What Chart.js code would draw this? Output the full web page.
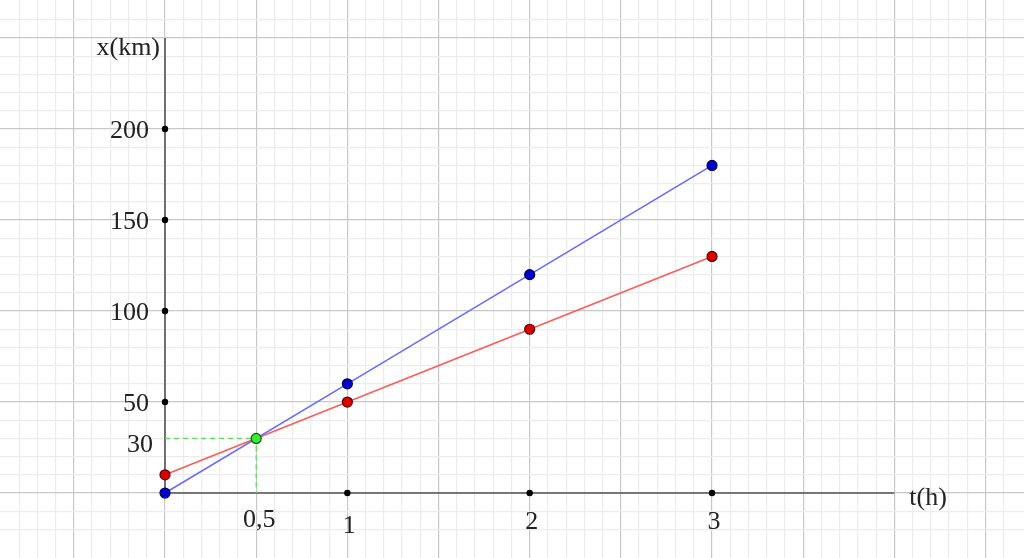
<!DOCTYPE html>
<html>
<head>
<meta charset="utf-8">
<script src="https://cdn.jsdelivr.net/npm/chart.js@4"></script>
<style>
  html, body { margin: 0; padding: 0; background: #fff; }
  canvas { display: block; }
</style>
</head>
<body>
<canvas id="graph" width="1024" height="558"></canvas>
<script>
// data
const hours = [0, 1, 2, 3];
const blueKm = [0, 60, 120, 180];
const redKm = [10, 50, 90, 130];
const meetT = 0.5;
const meetX = 30;
const xTickLabels = [1, 2, 3];
const yTickLabels = [50, 100, 150, 200];

function pts(xs, ys) {
  return xs.map((x, i) => ({ x: x, y: ys[i] }));
}

function gridColor(step, majorEvery) {
  return function (c) {
    const v = c.tick.value / step;
    const k = Math.round(v);
    if (Math.abs(v - k) > 1e-6) return 'rgba(0,0,0,0)';
    return k % majorEvery === 0 ? '#c8c8c8' : '#ececec';
  };
}

const labelsPlugin = {
  id: 'labels',
  afterDatasetsDraw(chart) {
    const c = chart.ctx;
    const sx = chart.scales.x, sy = chart.scales.y;
    c.save();
    c.fillStyle = '#222';
    c.font = '26px "Liberation Serif", serif';
    c.textBaseline = 'middle';
    c.textAlign = 'right';
    yTickLabels.forEach(v => c.fillText(String(v), sx.getPixelForValue(0) - 16, sy.getPixelForValue(v) + 2));
    c.fillText(String(meetX), sx.getPixelForValue(0) - 12, sy.getPixelForValue(meetX) + 7);
    c.fillText('x(km)', sx.getPixelForValue(0) - 5, sy.getPixelForValue(250) + 10);
    c.textAlign = 'center';
    xTickLabels.forEach(v => c.fillText(String(v), sx.getPixelForValue(v) + 2, sy.getPixelForValue(0) + (v === 1 ? 33 : 29)));
    c.fillText('0,5', sx.getPixelForValue(meetT) + 3, sy.getPixelForValue(0) + 27);
    c.textAlign = 'left';
    c.fillText('t(h)', sx.getPixelForValue(4) + 15, sy.getPixelForValue(0) + 5);
    c.restore();
  }
};

new Chart(document.getElementById('graph').getContext('2d'), {
  type: 'scatter',
  data: {
    datasets: [
      {
        data: pts([meetT], [meetX]),
        pointRadius: 5, pointBackgroundColor: '#33ee33', pointBorderColor: '#115511', pointBorderWidth: 1.2,
        order: 0
      },
      {
        data: pts(hours, blueKm), showLine: true,
        borderColor: '#6a6aff', borderWidth: 1.6,
        pointRadius: 5, pointBackgroundColor: '#0000cc', pointBorderColor: '#000055', pointBorderWidth: 1.2,
        order: 1
      },
      {
        data: pts(hours, redKm), showLine: true,
        borderColor: '#ff5a5a', borderWidth: 1.6,
        pointRadius: 5, pointBackgroundColor: '#dd0000', pointBorderColor: '#550000', pointBorderWidth: 1.2,
        order: 2
      },
      {
        // green helper lines to the axes
        data: [{ x: 0, y: meetX }, { x: meetT, y: meetX }, { x: meetT, y: 0 }], showLine: true,
        borderColor: '#5fdc5f', borderWidth: 1.3, borderDash: [5, 4], pointRadius: 0,
        order: 3
      },
      {
        // tick dots
        data: xTickLabels.map(v => ({ x: v, y: 0 })).concat(yTickLabels.map(v => ({ x: 0, y: v }))),
        pointRadius: 3.2, pointBackgroundColor: '#000', pointBorderColor: '#000', pointBorderWidth: 0,
        order: 4
      },
      {
        // axes
        data: [{ x: 4, y: 0 }, { x: 0, y: 0 }, { x: 0, y: 250 }], showLine: true,
        borderColor: '#555', borderWidth: 1.6, pointRadius: 0,
        order: 5
      }
    ]
  },
  options: {
    responsive: false,
    animation: false,
    layout: { padding: 0, autoPadding: false },
    plugins: { legend: { display: false }, tooltip: { enabled: false } },
    scales: {
      x: {
        type: 'linear', min: -0.905, max: 4.711,
        ticks: { display: false, stepSize: 0.1 },
        border: { display: false },
        grid: { drawTicks: false, color: gridColor(0.1, 5), lineWidth: 1.2 },
        afterFit: s => { s.height = 0; }
      },
      y: {
        type: 'linear', min: -35.7, max: 270.9,
        ticks: { display: false, stepSize: 10 },
        border: { display: false },
        grid: { drawTicks: false, color: gridColor(10, 5), lineWidth: 1.2 },
        afterFit: s => { s.width = 0; }
      }
    }
  },
  plugins: [labelsPlugin]
});
</script>
</body>
</html>
